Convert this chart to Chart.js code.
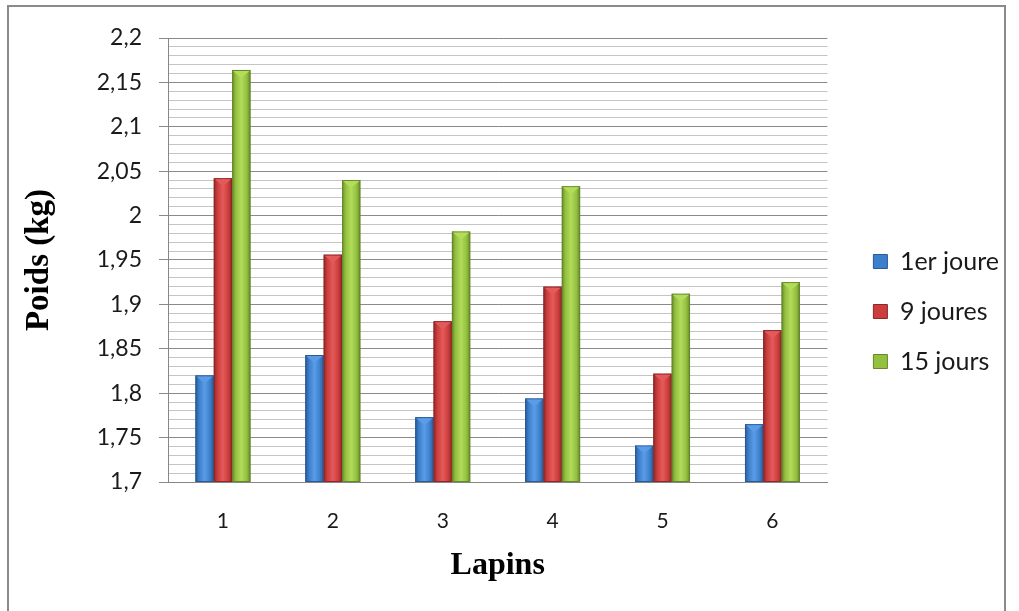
<!DOCTYPE html>
<html>
<head>
<meta charset="utf-8">
<script src="https://cdn.jsdelivr.net/npm/chart.js@4"></script>
<style>
  html, body { margin: 0; padding: 0; background: #fff; }
  #wrap { position: relative; width: 1019px; height: 611px; overflow: hidden; }
  #frame { position: absolute; left: 7px; top: 5px; width: 999px; height: 620px; border: 2px solid #8a8a8a; box-sizing: border-box; }
  canvas { position: absolute; left: 0; top: 0; }
</style>
</head>
<body>
<div id="wrap">
  <div id="frame"></div>
  <canvas id="poidsChart" width="1019" height="611"></canvas>
</div>
<script>
// lapins 1..6, poids en kg
const lapins = ["1", "2", "3", "4", "5", "6"];
const jour1 = [1.82, 1.843, 1.773, 1.794, 1.741, 1.765];
const jour9 = [2.042, 1.956, 1.881, 1.92, 1.822, 1.871];
const jour15 = [2.164, 2.04, 1.982, 2.033, 1.912, 1.925];
const seriesNames = ["1er joure", "9 joures", "15 jours"];

const fill = ["#3c7fcc", "#cc3d3d", "#94c040"];
const edge = ["#2a5a96", "#8e2727", "#66882b"];
const light = ["#5a9ce6", "#e45a5a", "#b2dc5a"];

function isMajor(v) {
  return Math.round(v * 100) % 5 === 0;
}

// bevel look: repaint each bar (from its own x/y, cut at the axis)
// with side shading and a light chevron on top
const bevel = {
  id: 'bevel',
  afterDatasetsDraw: function (chart) {
    const ctx = chart.ctx;
    const bottom = chart.chartArea.bottom;
    ctx.save();
    chart.data.datasets.forEach(function (ds, i) {
      chart.getDatasetMeta(i).data.forEach(function (bar) {
        const x0 = bar.x - bar.width / 2, x1 = bar.x + bar.width / 2;
        const h = Math.min(bar.base, bottom) - bar.y;
        const g = ctx.createLinearGradient(x0, 0, x1, 0);
        g.addColorStop(0, edge[i]);
        g.addColorStop(0.2, fill[i]);
        g.addColorStop(0.5, light[i]);
        g.addColorStop(0.8, fill[i]);
        g.addColorStop(1, edge[i]);
        ctx.fillStyle = g;
        ctx.fillRect(x0, bar.y, bar.width, h);
        ctx.strokeStyle = edge[i];
        ctx.lineWidth = 1;
        ctx.strokeRect(x0 + 0.5, bar.y + 0.5, bar.width - 1, h - 1);
        ctx.fillStyle = light[i];
        ctx.beginPath();
        ctx.moveTo(x0 + 1, bar.y + 1);
        ctx.lineTo(x1 - 1, bar.y + 1);
        ctx.lineTo(bar.x, bar.y + 8);
        ctx.closePath();
        ctx.fill();
      });
    });
    ctx.restore();
  }
};

const data = {
  labels: lapins,
  datasets: [jour1, jour9, jour15].map(function (vals, i) {
    return {
      label: seriesNames[i],
      data: vals,
      backgroundColor: fill[i],
      borderColor: edge[i],
      borderWidth: 1,
      categoryPercentage: 0.5,
      barPercentage: 1.0
    };
  })
};

const config = {
  type: 'bar',
  data: data,
  plugins: [bevel],
  options: {
    responsive: false,
    animation: false,
    layout: { padding: { left: 20, top: 38, right: 10, bottom: 26 } },
    plugins: {
      legend: {
        position: 'right',
        labels: {
          font: { family: 'Lato', size: 25 },
          color: '#1a1a1a',
          boxWidth: 14,
          boxHeight: 14,
          padding: 25
        }
      },
      tooltip: { enabled: false }
    },
    scales: {
      x: {
        grid: { display: false },
        border: { color: '#868686', width: 1 },
        afterFit: function (scale) { scale.height = 103; },
        ticks: { font: { family: 'Lato', size: 21 }, color: '#1a1a1a', padding: 19 },
        title: {
          display: true,
          text: 'Lapins',
          font: { family: 'Liberation Serif', size: 32, weight: 'bold' },
          color: '#000',
          padding: { top: 8, bottom: 0 }
        }
      },
      y: {
        min: 1.7,
        max: 2.2,
        afterFit: function (scale) { scale.width = 148; },
        ticks: {
          stepSize: 0.01,
          autoSkip: false,
          maxTicksLimit: 100,
          padding: 17,
          font: { family: 'Lato', size: 23 },
          color: '#1a1a1a',
          callback: function (v) {
            if (!isMajor(v)) return '';
            return String(Number(v.toFixed(2))).replace('.', ',');
          }
        },
        grid: {
          color: function (ctx) { return isMajor(ctx.tick.value) ? '#8a8a8a' : '#c4c4c4'; },
          tickColor: function (ctx) { return isMajor(ctx.tick.value) ? '#8a8a8a' : 'rgba(0,0,0,0)'; },
          tickLength: 9,
          lineWidth: 1
        },
        border: { color: '#868686', width: 1 },
        title: {
          display: true,
          text: 'Poids (kg)',
          font: { family: 'Liberation Serif', size: 33, weight: 'bold' },
          color: '#000',
          padding: 0
        }
      },
      // empty axis, only keeps a gap between plot and legend
      gap: {
        position: 'right',
        display: true,
        afterFit: function (scale) { scale.width = 21; },
        grid: { display: false },
        border: { display: false },
        ticks: { display: false }
      }
    }
  }
};

var ch1 = new Chart("poidsChart", config);
</script>
</body>
</html>
